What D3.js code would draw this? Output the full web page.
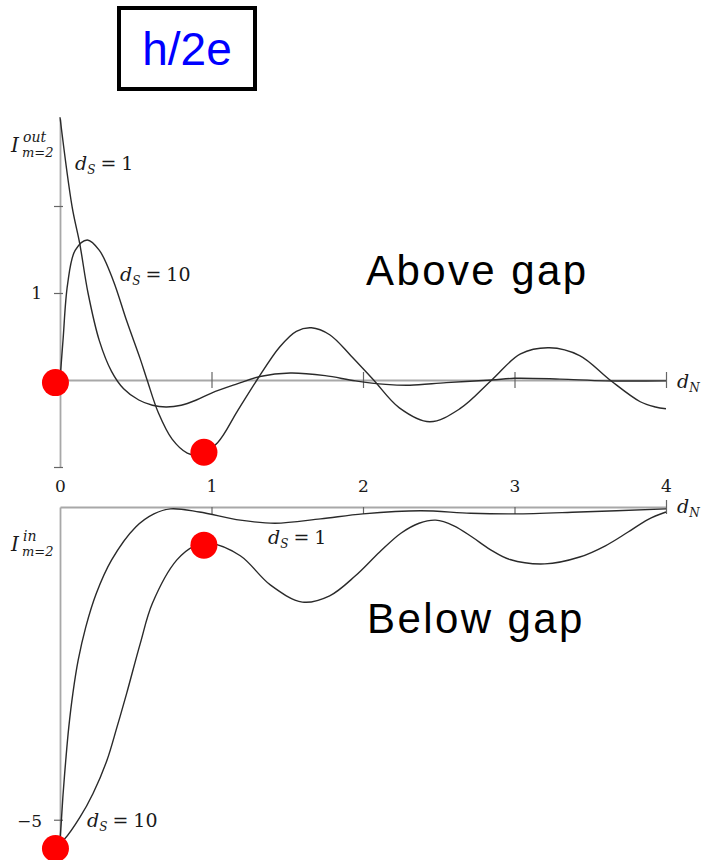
<!DOCTYPE html>
<html lang="en">
<head>
<meta charset="UTF-8">
<title>h/2e oscillations</title>
<style>
  body { margin: 0; background: #fff; }
  .axis path, .axis line { stroke: #a8a8a8; stroke-width: 1.8; }
  .axis .tick line { stroke: #666; stroke-width: 1.2; }
  .axis text { font: 17px "DejaVu Serif", serif; fill: #1a1a1a; }
  .curve { fill: none; stroke: #2a2a2a; stroke-width: 1.4; }
  .math { font-family: "DejaVu Serif", serif; fill: #1a1a1a; }
  .big { font-family: "Liberation Sans", Arial, sans-serif; }
</style>
</head>
<body>
<svg width="706" height="860"></svg>
<script src="https://d3js.org/d3.v7.min.js"></script>
<script>
// ---- data: [d_N, I] pairs ----
var outDs1 = [[0, 3.02], [0.08, 1.99], [0.13, 1.57], [0.185, 1.0], [0.26, 0.45], [0.34, 0.1],
  [0.42, -0.1], [0.52, -0.23], [0.61, -0.29], [0.7, -0.31], [0.8, -0.29], [0.9, -0.23],
  [1.0, -0.15], [1.16, -0.05], [1.32, 0.04], [1.52, 0.08], [1.75, 0.05], [1.95, -0.01],
  [2.15, -0.05], [2.31, -0.06], [2.55, -0.03], [2.85, 0.0], [3.0, 0.02], [3.3, 0.01],
  [3.6, -0.01], [4.0, -0.01]];
var outDs10 = [[0, 0], [0.02, 0.46], [0.05, 1.1], [0.1, 1.49], [0.18, 1.61], [0.26, 1.49],
  [0.35, 1.15], [0.44, 0.68], [0.53, 0.24], [0.575, 0.0], [0.65, -0.38], [0.74, -0.68],
  [0.84, -0.84], [0.92, -0.86], [1.04, -0.72], [1.17, -0.36], [1.3, 0.0], [1.45, 0.38],
  [1.56, 0.56], [1.66, 0.6], [1.78, 0.52], [1.92, 0.28], [2.07, 0.0], [2.24, -0.32],
  [2.44, -0.48], [2.64, -0.33], [2.85, 0.0], [3.04, 0.3], [3.23, 0.37], [3.43, 0.28],
  [3.63, 0.0], [3.83, -0.25], [3.93, -0.31], [4.0, -0.33]];
var inDs1 = [[0, -5.32], [0.008, -5.05], [0.02, -4.6], [0.038, -4.05], [0.058, -3.52],
  [0.085, -2.98], [0.12, -2.45], [0.17, -1.92], [0.24, -1.38], [0.34, -0.85],
  [0.5, -0.32], [0.62, -0.11], [0.73, -0.03], [0.92, -0.08], [1.19, -0.21], [1.42, -0.26],
  [1.72, -0.19], [2.0, -0.11], [2.38, -0.06], [2.71, -0.1], [3.0, -0.11], [3.43, -0.08],
  [4.0, -0.03]];
var inDs10 = [[0, -5.36], [0.033, -5.3], [0.132, -4.96], [0.218, -4.58], [0.31, -4.05],
  [0.376, -3.52], [0.44, -2.98], [0.53, -2.18], [0.61, -1.54], [0.77, -0.85], [0.89, -0.62],
  [0.99, -0.58], [1.19, -0.78], [1.39, -1.25], [1.6, -1.52], [1.78, -1.42], [1.95, -1.1],
  [2.11, -0.72], [2.25, -0.42], [2.37, -0.26], [2.48, -0.21], [2.6, -0.3], [2.72, -0.48],
  [2.84, -0.68], [2.97, -0.84], [3.2, -0.91], [3.43, -0.8], [3.6, -0.62], [3.75, -0.4],
  [3.88, -0.2], [4.0, -0.08]];

// red markers
var outDots = [[-0.03, -0.03], [0.95, -0.83]];
var inDots = [[0.95, -0.61], [-0.03, -5.46]];

var xTicksTop = [1, 2, 3, 4];
var yTicksTop = [-1, 1, 2];
var xTicksBottom = [0, 1, 2, 3, 4];
var yTicksBottom = [-5];

var svg = d3.select("svg");
var fmt = d3.format("d");

var x = d3.scaleLinear().domain([0, 4]).range([60, 666]);
var yTop = d3.scaleLinear().domain([-1, 3]).range([467, 119]);
var yBot = d3.scaleLinear().domain([-5.5, 0]).range([851, 507]);

// ---- top panel axes ----
var gxTop = svg.append("g").attr("class", "axis")
  .attr("transform", "translate(0," + yTop(0) + ")")
  .call(d3.axisBottom(x).tickValues(xTicksTop).tickSize(8).tickSizeOuter(0).tickFormat(""));
gxTop.selectAll(".tick line").attr("y1", -8);

var gyTop = svg.append("g").attr("class", "axis")
  .attr("transform", "translate(" + x(0) + ",0)")
  .call(d3.axisLeft(yTop).tickValues(yTicksTop).tickSize(6).tickSizeOuter(0)
    .tickFormat(function(d) { return d === 1 ? "1" : ""; }).tickPadding(12));
gyTop.selectAll(".tick line").attr("x1", 3);

// ---- bottom panel axes ----
var gxBot = svg.append("g").attr("class", "axis")
  .attr("transform", "translate(0," + yBot(0) + ")")
  .call(d3.axisTop(x).tickValues(xTicksBottom).tickSize(7).tickSizeOuter(0).tickPadding(8)
    .tickFormat(fmt));
gxBot.selectAll(".tick line")
  .attr("y2", function(d) { return d === 0 ? 0 : 7; })
  .attr("y1", function(d) { return d === 4 ? -7 : 0; });

var gyBot = svg.append("g").attr("class", "axis")
  .attr("transform", "translate(" + x(0) + ",0)")
  .call(d3.axisLeft(yBot).tickValues(yTicksBottom).tickFormat(fmt)
    .tickSize(6).tickSizeOuter(0).tickPadding(12));
gyBot.selectAll(".tick line").attr("x1", 3);
gyBot.selectAll(".tick text").attr("dy", "0.4em");

// ---- curves ----
var lineTop = d3.line().x(function(d) { return x(d[0]); }).y(function(d) { return yTop(d[1]); })
  .curve(d3.curveCatmullRom.alpha(0.5));
var lineBot = d3.line().x(function(d) { return x(d[0]); }).y(function(d) { return yBot(d[1]); })
  .curve(d3.curveCatmullRom.alpha(0.5));

svg.selectAll(".c-top").data([outDs1, outDs10]).enter().append("path")
  .attr("class", "curve c-top").attr("d", lineTop);
svg.selectAll(".c-bot").data([inDs1, inDs10]).enter().append("path")
  .attr("class", "curve c-bot").attr("d", lineBot);

// ---- red dots ----
svg.selectAll(".dot-top").data(outDots).enter().append("circle")
  .attr("cx", function(d) { return x(d[0]); }).attr("cy", function(d) { return yTop(d[1]); })
  .attr("r", 13.5).attr("fill", "#ff0000");
svg.selectAll(".dot-bot").data(inDots).enter().append("circle")
  .attr("cx", function(d) { return x(d[0]); }).attr("cy", function(d) { return yBot(d[1]); })
  .attr("r", 13.5).attr("fill", "#ff0000");

// ---- math labels ----
function dsLabel(px, py, val) {
  var t = svg.append("text").attr("class", "math").attr("x", px).attr("y", py).attr("font-size", 19);
  t.append("tspan").attr("font-style", "italic").text("d");
  t.append("tspan").attr("font-style", "italic").attr("font-size", 12).attr("dy", 4).text("S");
  t.append("tspan").attr("dy", -4).attr("dx", 5).text("=");
  t.append("tspan").attr("dx", 5).text(val);
}
dsLabel(75, 170, "1");
dsLabel(120, 281, "10");
dsLabel(268, 544, "1");
dsLabel(87, 827, "10");

function iLabel(py, sup) {
  svg.append("text").attr("class", "math").attr("x", 11).attr("y", py)
    .attr("font-size", 20).attr("font-style", "italic").text("I");
  svg.append("text").attr("class", "math").attr("x", 23).attr("y", py - 10)
    .attr("font-size", 14).attr("font-style", "italic").text(sup);
  svg.append("text").attr("class", "math").attr("x", 22).attr("y", py + 5)
    .attr("font-size", 13).attr("font-style", "italic").text("m=2");
}
iLabel(152, "out");
iLabel(551, "in");

function dnLabel(py) {
  var t = svg.append("text").attr("class", "math").attr("x", 677).attr("y", py).attr("font-size", 19);
  t.append("tspan").attr("font-style", "italic").text("d");
  t.append("tspan").attr("font-style", "italic").attr("font-size", 12).attr("dy", 4).text("N");
}
dnLabel(388);
dnLabel(513);

// ---- annotations ----
svg.append("text").attr("class", "big").attr("x", 366).attr("y", 285)
  .attr("font-size", 42).attr("letter-spacing", 2.4).text("Above gap");
svg.append("text").attr("class", "big").attr("x", 367).attr("y", 633)
  .attr("font-size", 42).attr("letter-spacing", 2.4).text("Below gap");

svg.append("rect").attr("x", 119).attr("y", 8).attr("width", 136).attr("height", 81)
  .attr("fill", "none").attr("stroke", "#000").attr("stroke-width", 4);
svg.append("text").attr("class", "big").attr("x", 187).attr("y", 65)
  .attr("text-anchor", "middle").attr("font-size", 46).attr("fill", "#0000ff").text("h/2e");
</script>
</body>
</html>
